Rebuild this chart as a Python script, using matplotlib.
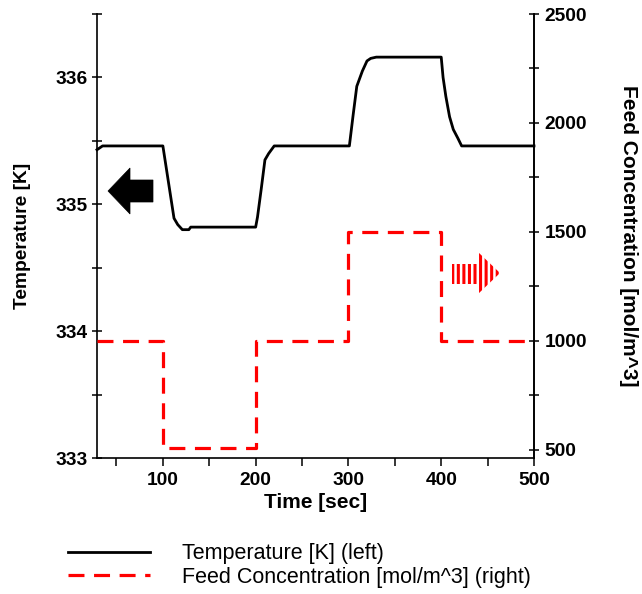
import matplotlib
matplotlib.use('Agg')
import matplotlib.pyplot as plt
from matplotlib.patches import Polygon
from matplotlib.lines import Line2D

plt.rcParams['font.family'] = ['Liberation Sans', 'DejaVu Sans']

# reactor temperature response (left axis)
time_temp = [29, 35, 100, 104, 108, 112, 116, 121, 128, 130, 200, 202, 206, 210,
             214, 220, 301, 305, 309, 315, 320, 324, 330, 400, 402, 405, 409,
             413, 418, 422, 500]
temp = [335.43, 335.46, 335.46, 335.27, 335.08, 334.89, 334.84, 334.80, 334.80,
        334.82, 334.82, 334.90, 335.12, 335.35, 335.40, 335.46, 335.46, 335.70,
        335.93, 336.05, 336.13, 336.15, 336.16, 336.16, 336.00, 335.85, 335.69,
        335.59, 335.52, 335.46, 335.46]

# feed concentration steps (right axis)
time_conc = [29, 100, 200, 300, 400, 500]
conc = [1000, 510, 1000, 1500, 1000, 1000]

x_ticks = [100, 200, 300, 400, 500]
temp_ticks = [333, 334, 335, 336]
conc_ticks = [500, 1000, 1500, 2000, 2500]

fig = plt.figure(figsize=(6.42, 5.94), dpi=100)
ax = fig.add_axes([97 / 642, 136 / 594, 437 / 642, 444 / 594])
ax2 = ax.twinx()

ax.plot(time_temp, temp, color='black', lw=2.0, clip_on=False, zorder=3)
ax2.plot(time_conc, conc, color='#ff0000', lw=2.3, dashes=(5, 3),
         drawstyle='steps-post', clip_on=False)

ax.set_xlim(29, 500)
ax.set_ylim(333, 336.5)
ax2.set_ylim(463, 2500)

ax.set_xticks(x_ticks)
ax.set_xticks([50, 150, 250, 350, 450], minor=True)
ax.set_yticks(temp_ticks)
ax.set_yticks([333.5, 334.5, 335.5, 336.5], minor=True)
ax2.set_yticks(conc_ticks)
ax2.set_yticks([750, 1250, 1750, 2250], minor=True)

for a in (ax, ax2):
    a.spines['top'].set_visible(False)
    for s in a.spines.values():
        s.set_linewidth(1.2)
ax2.spines['bottom'].set_visible(False)
ax2.spines['left'].set_visible(False)

ax.tick_params(axis='y', which='both', direction='inout', length=7, width=1.1,
               labelsize=13.8, pad=3)
ax.tick_params(axis='x', which='both', direction='out', length=6, width=1.1,
               labelsize=13.8, pad=4)
ax2.tick_params(axis='y', which='both', direction='inout', length=7, width=1.1,
                labelsize=13.8, pad=4)
for lab in ax.get_xticklabels() + ax.get_yticklabels() + ax2.get_yticklabels():
    lab.set_fontweight('bold')

ax.set_xlabel('Time [sec]', fontsize=15, fontweight='bold', labelpad=3)
ax.set_ylabel('Temperature [K]', fontsize=13.8, fontweight='bold', labelpad=18)
ax2.set_ylabel('Feed Concentration [mol/m^3]', fontsize=15, fontweight='bold',
               rotation=-90, labelpad=37)

# left-pointing black arrow (temperature belongs to left axis)
black_arrow = [(108, 191), (130, 168), (130, 180), (153, 180), (153, 202),
               (130, 202), (130, 214)]
# right-pointing striped red arrow (concentration belongs to right axis)
red_arrow = [(452, 264), (478, 264), (478, 252), (500, 273), (478, 294),
             (478, 284), (452, 284)]


def px(points):
    return [(x / 642, 1 - y / 594) for x, y in points]


fig.patches.append(Polygon(px(black_arrow), closed=True, transform=fig.transFigure,
                           facecolor='black', edgecolor='black', lw=0.5))
plt.rcParams['hatch.linewidth'] = 2.2
fig.patches.append(Polygon(px(red_arrow), closed=True, transform=fig.transFigure,
                           facecolor='none', edgecolor='#ff0000', lw=0,
                           hatch='|||'))

handles = [Line2D([], [], color='black', lw=2.0),
           Line2D([], [], color='#ff0000', lw=2.3, dashes=(5, 3))]
fig.legend(handles, ['Temperature [K] (left)',
                     'Feed Concentration [mol/m^3] (right)'],
           loc='upper left', bbox_to_anchor=(49 / 642, 1 - 524 / 594),
           frameon=False, fontsize=15.5, handlelength=3.8, handletextpad=1.5,
           labelspacing=0.1)

fig.savefig('out.png', dpi=100)
